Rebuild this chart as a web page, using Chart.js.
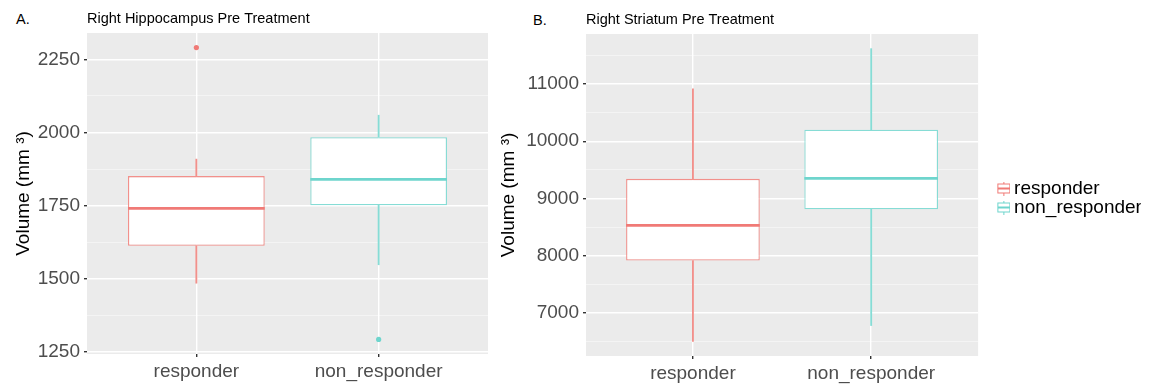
<!DOCTYPE html>
<html>
<head>
<meta charset="utf-8">
<script src="https://cdn.jsdelivr.net/npm/chart.js@4.4.1/dist/chart.umd.min.js"></script>
<style>
  body { margin: 0; background: #fff; width: 1157px; height: 386px; position: relative; overflow: hidden; font-family: 'Liberation Sans', Arial, sans-serif; }
  canvas { position: absolute; top: 0; }
  #chartA { left: 0; }
  #chartB { left: 490px; }
  .panel-tag { position: absolute; font-size: 14.5px; line-height: 15px; color: #000; }
</style>
</head>
<body>
<div class="panel-tag" style="left:16px; top:11.5px;">A.</div>
<div class="panel-tag" style="left:533px; top:12.5px;">B.</div>
<canvas id="chartA" width="500" height="386"></canvas>
<canvas id="chartB" width="667" height="386"></canvas>
<script>
// grupos
const groups = ['responder', 'non_responder'];

// A. Right Hippocampus Pre Treatment (mm3)
const hipMin = [1485, 1548];
const hipQ1 = [1613, 1751];
const hipMedian = [1741, 1840];
const hipQ3 = [1851, 1984];
const hipMax = [1909, 2059];
const hipOutliers = [[2290], [1293]];
const hipTicks = [1250, 1500, 1750, 2000, 2250];

// B. Right Striatum Pre Treatment (mm3)
const strMin = [6508, 6784];
const strQ1 = [7917, 8812];
const strMedian = [8531, 9350];
const strQ3 = [9343, 10199];
const strMax = [10912, 11615];
const strOutliers = [[], []];
const strTicks = [7000, 8000, 9000, 10000, 11000];

// colores
const lineColors = ['#F07A76', '#6ED5CD'];
const boxColors = ['#F2908B', '#86DCD5'];

const fontFamily = "'Liberation Sans', Arial, Helvetica, sans-serif";
Chart.defaults.font.family = fontFamily;
Chart.defaults.color = '#4D4D4D';

// fondo gris del panel
const panelBg = {
  id: 'panelBg',
  beforeDraw(chart) {
    const a = chart.chartArea;
    const ctx = chart.ctx;
    ctx.save();
    ctx.fillStyle = '#EBEBEB';
    ctx.fillRect(a.left, a.top, a.right - a.left, a.bottom - a.top);
    ctx.restore();
  }
};

// linea de la mediana en cada caja
const medianLine = {
  id: 'medianLine',
  afterDatasetsDraw(chart, args, opts) {
    const meta = chart.getDatasetMeta(0);
    const y = chart.scales.y;
    const ctx = chart.ctx;
    ctx.save();
    meta.data.forEach(function(bar, i) {
      const py = y.getPixelForValue(opts.values[i]);
      ctx.strokeStyle = lineColors[i];
      ctx.lineWidth = 2.7;
      ctx.beginPath();
      ctx.moveTo(bar.x - bar.width / 2, py);
      ctx.lineTo(bar.x + bar.width / 2, py);
      ctx.stroke();
    });
    ctx.restore();
  }
};

// simbolo de la leyenda (caja pequeña)
function legendKey(color) {
  const c = document.createElement('canvas');
  c.width = 38; c.height = 14;
  const g = c.getContext('2d');
  const x0 = 25.5, w = 12, cx = x0 + w / 2;
  g.strokeStyle = color;
  g.lineWidth = 1;
  g.beginPath(); g.moveTo(cx, 0); g.lineTo(cx, 14); g.stroke();
  g.fillStyle = '#fff';
  g.fillRect(x0, 2.5, w, 9);
  g.strokeRect(x0, 2.5, w, 9);
  g.lineWidth = 2;
  g.beginPath(); g.moveTo(x0, 7); g.lineTo(x0 + w, 7); g.stroke();
  return c;
}

// ancho natural de la leyenda, para que el panel termine donde debe
function legendWidth(keyW, size) {
  const ctx = document.createElement('canvas').getContext('2d');
  ctx.font = size + 'px ' + fontFamily;
  const tw = Math.max.apply(null, groups.map(g => ctx.measureText(g).width));
  return keyW + size / 2 + tw + 10;
}

function boxChart(id, cfg) {
  const all = cfg.mins.concat(cfg.maxs, cfg.outliers.flat());
  const lo = Math.min.apply(null, all), hi = Math.max.apply(null, all);
  const pad = (hi - lo) * 0.05;
  const step = cfg.majors[1] - cfg.majors[0];
  const minors = cfg.majors.map(v => v - step / 2)
    .concat([cfg.majors[cfg.majors.length - 1] + step / 2])
    .filter(v => v > lo - pad && v < hi + pad);
  const yTicks = cfg.majors.concat(minors).sort((a, b) => a - b);
  const isMajor = v => cfg.majors.includes(v);

  const points = [], pointColors = [];
  cfg.outliers.forEach(function(arr, i) {
    arr.forEach(function(v) {
      points.push({x: i + 1, y: v});
      pointColors.push(lineColors[i]);
    });
  });

  let padRight = cfg.padRight;
  let legendOpts = {display: false};
  if (cfg.legend) {
    padRight = Math.max(0, cfg.rightSpace - legendWidth(26.5, 19));
    legendOpts = {
      display: true,
      position: 'right',
      align: 'center',
      fullSize: false,
      title: {display: true, text: ' ', font: {size: 5}, padding: 0},
      labels: {
        usePointStyle: true,
        pointStyleWidth: 26.5,
        padding: 0,
        color: '#000',
        font: {size: 19},
        generateLabels: () => groups.map((g, i) => ({
          text: g, pointStyle: legendKey(lineColors[i]), fillStyle: '#fff',
          strokeStyle: lineColors[i], lineWidth: 0, hidden: false, datasetIndex: 0, fontColor: '#000'
        }))
      }
    };
  }

  return new Chart(document.getElementById(id), {
    type: 'bar',
    data: {
      datasets: [{
        label: 'caja',
        data: groups.map((g, i) => ({x: i + 1, y: [cfg.q1[i], cfg.q3[i]]})),
        backgroundColor: '#FFFFFF',
        borderColor: boxColors,
        borderWidth: 1.3,
        borderSkipped: false,
        grouped: false,
        categoryPercentage: 1,
        barPercentage: 0.75
      }, {
        label: 'bigote sup',
        data: groups.map((g, i) => ({x: i + 1, y: [cfg.q3[i], cfg.maxs[i]]})),
        backgroundColor: boxColors,
        borderWidth: 0,
        grouped: false,
        barThickness: 1.2
      }, {
        label: 'bigote inf',
        data: groups.map((g, i) => ({x: i + 1, y: [cfg.mins[i], cfg.q1[i]]})),
        backgroundColor: boxColors,
        borderWidth: 0,
        grouped: false,
        barThickness: 1.2
      }, {
        type: 'scatter',
        label: 'atipicos',
        data: points,
        pointBackgroundColor: pointColors,
        pointBorderWidth: 0,
        pointRadius: 2.6
      }]
    },
    options: {
      responsive: false,
      animation: false,
      devicePixelRatio: 1,
      layout: {padding: {left: 0, right: padRight, top: 0, bottom: 0}},
      scales: {
        x: {
          type: 'linear',
          min: 0.4,
          max: 2.6,
          offset: false,
          afterBuildTicks: s => { s.ticks = groups.map((g, i) => ({value: i + 1})); },
          afterFit: s => { s.height = cfg.xAxisH; },
          grid: {offset: false, color: '#FFFFFF', lineWidth: 1.4, tickColor: '#333333', tickLength: 3},
          border: {display: false},
          ticks: {callback: v => groups[v - 1], color: '#4D4D4D', font: {size: 19}, padding: 3, maxRotation: 0, autoSkip: false}
        },
        y: {
          min: lo - pad,
          max: hi + pad,
          afterBuildTicks: s => { s.ticks = yTicks.map(v => ({value: v})); },
          afterFit: s => { s.width = cfg.yAxisW; },
          grid: {
            color: c => isMajor(c.tick.value) ? '#FFFFFF' : 'rgba(255,255,255,0.6)',
            lineWidth: c => isMajor(c.tick.value) ? 1.4 : 0.8,
            tickColor: c => isMajor(c.tick.value) ? '#333333' : 'rgba(0,0,0,0)',
            tickLength: 3
          },
          border: {display: false},
          ticks: {callback: v => isMajor(v) ? String(v) : '', padding: 4, color: '#4D4D4D', font: {size: 19}, autoSkip: false},
          title: {display: true, text: 'Volume (mm ³)', color: '#000', font: {size: 19}, padding: {top: cfg.yTitlePad, bottom: 0}}
        }
      },
      plugins: {
        title: {
          display: true, text: cfg.title, align: 'start', fullSize: false, color: '#000',
          font: {size: 14.5, weight: 'normal'}, padding: {top: cfg.titleTop, bottom: cfg.titleBottom}
        },
        legend: legendOpts,
        tooltip: {enabled: false},
        medianLine: {values: cfg.med}
      }
    },
    plugins: [panelBg, medianLine]
  });
}

boxChart('chartA', {
  title: 'Right Hippocampus Pre Treatment',
  mins: hipMin, q1: hipQ1, med: hipMedian, q3: hipQ3, maxs: hipMax, outliers: hipOutliers, majors: hipTicks,
  yAxisW: 87, xAxisH: 32, titleTop: 10, titleBottom: 5.6, yTitlePad: 12, padRight: 12, legend: false
});

boxChart('chartB', {
  title: 'Right Striatum Pre Treatment',
  mins: strMin, q1: strQ1, med: strMedian, q3: strQ3, maxs: strMax, outliers: strOutliers, majors: strTicks,
  yAxisW: 96, xAxisH: 30, titleTop: 11, titleBottom: 5.6, yTitlePad: 7, rightSpace: 190, legend: true
});
</script>
</body>
</html>
